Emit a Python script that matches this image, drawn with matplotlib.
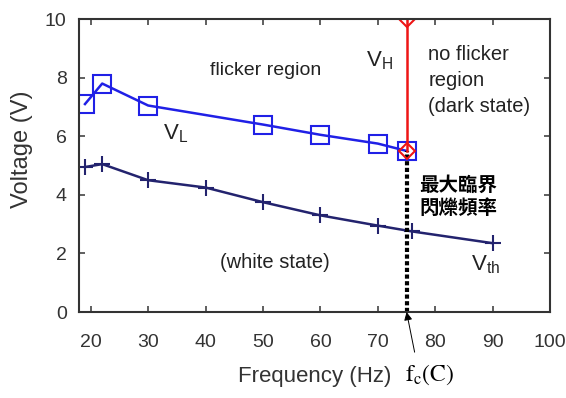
import matplotlib.pyplot as plt

plt.rcParams['font.family'] = ['Liberation Sans', 'DejaVu Sans']
plt.rcParams['mathtext.fontset'] = 'stix'

# V_L curve (blue squares)
vl_freq = [19, 22, 30, 50, 60, 70, 75]
vl_volt = [7.1, 7.8, 7.05, 6.4, 6.05, 5.75, 5.5]

# V_th curve (dark blue plus)
vth_freq = [19, 22, 30, 40, 50, 60, 70, 76, 90]
vth_volt = [4.95, 5.05, 4.5, 4.25, 3.75, 3.3, 2.95, 2.75, 2.35]

# V_H at the critical frequency
fc = 75
vh_volt = [5.5, 10]

xticks = [20, 30, 40, 50, 60, 70, 80, 90, 100]
yticks = [0, 2, 4, 6, 8, 10]

fig = plt.figure(figsize=(5.66, 3.98), dpi=100)
ax = fig.add_axes([0.14, 0.216, 0.832, 0.736])

ax.plot(vth_freq, vth_volt, color='#23236e', lw=1.8, marker='+', ms=12, mew=1.5)
ax.plot(vl_freq, vl_volt, color='#2020e6', lw=1.8, marker='s', ms=13,
        mfc='none', mew=1.5)
ax.plot([fc, fc], [0, vl_volt[-1]], color='black', lw=3, ls=(0, (1, 0.6)))
ax.plot([fc, fc], vh_volt, color='#ee1515', lw=1.8, marker='D', ms=8,
        mfc='none', mew=1.5)

ax.set_xlim(18, 100)
ax.set_ylim(0, 10)
ax.set_xticks(xticks)
ax.set_yticks(yticks)
ax.tick_params(direction='in', top=True, right=True, length=4, width=1.2,
               labelsize=14, labelcolor='#333333', color='#444444')
ax.tick_params(axis='x', pad=16)
ax.tick_params(axis='y', pad=9)
for s in ax.spines.values():
    s.set_linewidth(1.5)
    s.set_color('#333333')

ax.set_xlabel('Frequency (Hz)', fontsize=16, color='#333333')
ax.set_ylabel('Voltage (V)', fontsize=17, color='#333333')
ax.xaxis.set_label_coords(0.5, -0.185)
ax.yaxis.set_label_coords(-0.098, 0.555)

tc = '#222222'
ax.text(50.5, 8.25, 'flicker region', fontsize=14, color=tc, ha='center', va='center')
ax.text(70.3, 8.6, r'V$_\mathregular{H}$', fontsize=16, color=tc, ha='center', va='center')
ax.text(78.8, 7.9, 'no flicker\nregion\n(dark state)', fontsize=14.5, color=tc,
        ha='left', va='center', linespacing=1.45)
ax.text(34.8, 6.1, r'V$_\mathregular{L}$', fontsize=16, color=tc, ha='center', va='center')
ax.text(52.1, 1.7, '(white state)', fontsize=14.5, color=tc, ha='center', va='center')
ax.text(88.8, 1.65, r'V$_\mathregular{th}$', fontsize=16, color=tc, ha='center', va='center')
ax.text(77.2, 3.92, '最大臨界\n閃爍頻率', fontsize=14, color='black', ha='left',
        va='center', family=['Noto Sans CJK TC', 'DejaVu Sans'], weight='bold',
        linespacing=1.3)

ax.annotate('', xy=(fc, 0), xytext=(76.4, -1.37), annotation_clip=False,
            arrowprops=dict(arrowstyle='-|>', color='black', lw=0.7,
                            mutation_scale=12, shrinkA=0, shrinkB=0))
ax.text(79, -2.15, r'$\mathrm{f_c(C)}$', fontsize=17, ha='center', va='center',
        clip_on=False)

fig.savefig('out.png', dpi=100)
